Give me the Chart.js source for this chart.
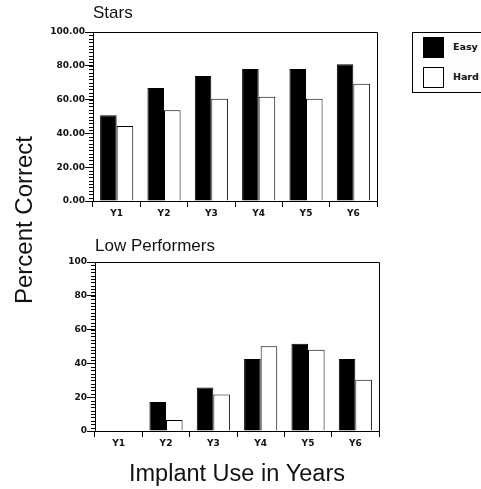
<!DOCTYPE html>
<html lang="en">

<head>
	<meta charset="UTF-8">
	<title>Percent Correct by Implant Use</title>
	<script src="https://cdn.jsdelivr.net/npm/chart.js@4/dist/chart.umd.min.js"></script>
	<style>
		body { margin: 0; background: #fff; overflow: hidden; width: 481px; height: 489px; position: relative; }
		canvas { position: absolute; left: 0; }
		#ytitle { position: absolute; left: -76px; top: 206px; width: 200px; line-height: 28px; text-align: center;
			font: 24px "Liberation Sans", Arial, sans-serif; color: #111; transform: rotate(-90deg); }
		#legend { position: absolute; left: 412px; top: 32px; width: 100px; height: 59px; border: 1px solid #000;
			font: bold 9.5px "DejaVu Sans", sans-serif; color: #111; }
		#legend .sw { position: absolute; left: 10px; width: 19px; height: 19px; border: 1px solid #000; }
		#legend .lb { position: absolute; left: 40px; }
	</style>
</head>

<body>
	<canvas id="stars" width="400" height="225" style="top:0"></canvas>
	<canvas id="low" width="400" height="264" style="top:225px"></canvas>
	<div id="ytitle">Percent Correct</div>
	<div id="legend">
		<div class="sw" style="top:4px;background:#000"></div><div class="lb" style="top:8px">Easy</div>
		<div class="sw" style="top:34px;background:#fff"></div><div class="lb" style="top:38px">Hard</div>
	</div>

	<script>
		const years = ['Y1', 'Y2', 'Y3', 'Y4', 'Y5', 'Y6'];
		const starsEasy = [50.7, 66.9, 74.0, 78.1, 78.1, 80.9];
		const starsHard = [44.4, 53.7, 60.5, 61.7, 60.5, 69.4];
		const lowEasy = [0, 17.2, 25.8, 42.6, 51.7, 42.6];
		const lowHard = [0, 6.5, 21.6, 50.1, 48.1, 30.3];

		const tickFont = { family: 'DejaVu Sans', size: 9, weight: 'bold' };

		// top and right sides of the plot box
		const frame = {
			id: 'frame',
			afterDraw(chart) {
				const a = chart.chartArea, ctx = chart.ctx;
				const l = Math.round(a.left), r = Math.round(a.right) + 0.5, t = Math.round(a.top) + 0.5, b = Math.round(a.bottom);
				ctx.save();
				ctx.strokeStyle = '#000';
				ctx.lineWidth = 1;
				ctx.beginPath();
				ctx.moveTo(l, t);
				ctx.lineTo(r, t);
				ctx.lineTo(r, b + 6);
				ctx.stroke();
				ctx.restore();
			}
		};

		// short minor ticks every 2 units on the y axis
		const minorTicks = {
			id: 'minorTicks',
			afterDraw(chart) {
				const y = chart.scales.y, left = Math.round(chart.chartArea.left), ctx = chart.ctx;
				ctx.save();
				ctx.strokeStyle = '#000';
				ctx.lineWidth = 1;
				ctx.beginPath();
				for (let v = 0; v <= 100; v += 2) {
					const py = Math.round(y.getPixelForValue(v)) + 0.5;
					ctx.moveTo(left - 4, py);
					ctx.lineTo(left, py);
				}
				ctx.stroke();
				ctx.restore();
			}
		};

		function makeChart(id, opts) {
			return new Chart(document.getElementById(id), {
				type: 'bar',
				data: {
					labels: years,
					datasets: [
						{ label: 'Easy', data: opts.easy, backgroundColor: '#000', borderColor: '#000', borderWidth: 1 },
						{ label: 'Hard', data: opts.hard, backgroundColor: '#fff', borderColor: '#000', borderWidth: 1 }
					]
				},
				options: {
					responsive: false,
					animation: false,
					devicePixelRatio: 1,
					layout: { padding: { right: opts.padRight, left: 0, top: 0, bottom: 0 } },
					datasets: { bar: { categoryPercentage: 0.7, barPercentage: 1.0 } },
					plugins: {
						legend: { display: false },
						tooltip: { enabled: false },
						title: {
							display: true,
							text: opts.title,
							align: 'start',
							fullSize: false,
							color: '#111',
							font: { family: 'Liberation Sans', size: 17, weight: 'normal' },
							padding: opts.titlePad
						}
					},
					scales: {
						x: {
							afterFit: s => { s.height = opts.xHeight; },
							grid: { drawOnChartArea: false, tickLength: 6, color: '#000', offset: true },
							border: { color: '#000' },
							ticks: { color: '#111', font: tickFont, padding: 1 },
							title: opts.xTitle
						},
						y: {
							min: 0,
							max: 100,
							afterFit: s => { s.width = opts.yWidth; },
							grid: { drawOnChartArea: false, tickLength: 8, color: '#000' },
							border: { color: '#000' },
							ticks: { stepSize: 20, color: '#111', font: tickFont, padding: 0, callback: opts.fmt }
						}
					}
				},
				plugins: [frame, minorTicks]
			});
		}

		makeChart('stars', {
			easy: starsEasy,
			hard: starsHard,
			title: 'Stars',
			titlePad: { top: 3, bottom: 8.6 },
			padRight: 23,
			yWidth: 93,
			xHeight: 24,
			fmt: v => v.toFixed(2),
			xTitle: { display: false }
		});

		makeChart('low', {
			easy: lowEasy,
			hard: lowHard,
			title: 'Low Performers',
			titlePad: { top: 11.5, bottom: 5.1 },
			padRight: 21,
			yWidth: 95,
			xHeight: 58,
			fmt: v => v,
			xTitle: {
				display: true,
				text: 'Implant Use in Years',
				color: '#111',
				font: { family: 'Liberation Sans', size: 23.5 },
				padding: { top: 0, bottom: 0 }
			}
		});
	</script>

</body>

</html>
